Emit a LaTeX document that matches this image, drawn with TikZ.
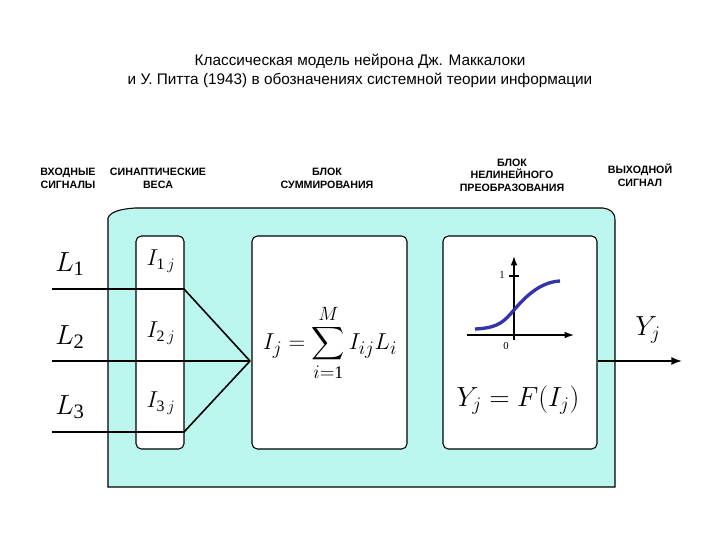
\documentclass[tikz,border=0pt]{standalone}
\usepackage{amsmath}
\usepackage{exscale}
\usepackage{fontspec}
\setmainfont{Liberation Serif}
\newfontfamily\hdr{Liberation Sans}
\usetikzlibrary{arrows.meta}
\definecolor{cyanbg}{HTML}{BBF7EE}
\definecolor{curveblue}{HTML}{3333AA}
\begin{document}
\begin{tikzpicture}[x=0.75pt,y=-0.75pt,
  head/.style={font=\hdr\bfseries\fontsize{8}{9.5}\selectfont, align=center},
  wbox/.style={draw=black, fill=white, line width=0.8pt, rounded corners=4pt},
  sig/.style={line width=1.2pt},
  mth/.style={font=\fontsize{22}{24}\selectfont},
  sm/.style={font=\fontsize{17}{20}\selectfont}]
\useasboundingbox (0,0) rectangle (720,540);
\node[font=\hdr\fontsize{11.5}{14.5}\selectfont, align=center] (title) at (360,71)
  {Классическая модель нейрона Дж. Маккалоки\\и У. Питта (1943) в обозначениях системной теории информации};
\node[head] (h1) at (68,178) {ВХОДНЫЕ\\СИГНАЛЫ};
\node[head] (h2) at (158,178) {СИНАПТИЧЕСКИЕ\\ВЕСА};
\node[head] (h3) at (327,178) {БЛОК\\СУММИРОВАНИЯ};
\node[head] (h4) at (512,175) {БЛОК\\НЕЛИНЕЙНОГО\\ПРЕОБРАЗОВАНИЯ};
\node[head] (h5) at (640,175) {ВЫХОДНОЙ\\СИГНАЛ};
\draw[fill=cyanbg, line width=0.8pt] (108,225) -- (108,218) .. controls (110,212) and (120,209) .. (135,208) -- (603,208) .. controls (610,209) and (615,212) .. (615,220) -- (615,487) -- (108,487) -- cycle;
\node[wbox, minimum width=48*0.75pt, minimum height=213*0.75pt, inner sep=0pt] (syn) at (160,342.5) {};
\node[wbox, minimum width=155*0.75pt, minimum height=213*0.75pt, inner sep=0pt] (sum) at (329.5,342.5) {};
\node[wbox, minimum width=154*0.75pt, minimum height=213*0.75pt, inner sep=0pt] (nl) at (520,342.5) {};
\coordinate (s1) at (52,289); \coordinate (e1) at (184,289);
\coordinate (s2) at (52,361);
\coordinate (s3) at (52,432); \coordinate (e3) at (184,432);
\coordinate (jn) at (250,361);
\draw[sig] (s1) -- (e1) -- (jn);
\draw[sig] (s3) -- (e3) -- (jn);
\draw[sig] (s2) -- (jn);
\draw[sig, -{Latex[length=8pt,width=6pt]}] (nl.east |- jn) -- (682,361) coordinate (out);
\node[mth] (L1) at (70,264) {$L_{\mathrm{1}}$};
\node[mth] (L2) at (70,337) {$L_{\mathrm{2}}$};
\node[mth] (L3) at (70,407) {$L_{\mathrm{3}}$};
\node[sm] (I1) at (161,261) {$I_{\mathrm{1}\,j}$};
\node[sm] (I2) at (161,333) {$I_{\mathrm{2}\,j}$};
\node[sm] (I3) at (161,403) {$I_{\mathrm{3}\,j}$};
\node[font=\fontsize{19}{22}\selectfont] (sumf) at (330,343) {$\displaystyle I_j=\sum_{i=\mathrm{1}}^{M} I_{ij}L_i$};
\node[mth] (Yj) at (648,330) {$Y_j$};
\node[font=\fontsize{21}{24}\selectfont] (Ff) at (518,400) {$Y_j=F(I_j)$};
\coordinate (yb) at (514,340); \coordinate (yt) at (514,256);
\coordinate (xl) at (467,335); \coordinate (xr) at (574,335);
\draw[line width=1pt, -{Latex[length=7pt,width=5pt]}] (yb) -- (yt);
\draw[line width=1pt, -{Latex[length=7pt,width=5pt]}] (xl) -- (xr);
\draw[line width=0.8pt] (509,276) -- (519,276);
\node[font=\fontsize{8}{9}\selectfont] (one) at (502,275) {1};
\node[font=\fontsize{8}{9}\selectfont] (zero) at (506,346) {0};
\draw[curveblue, line width=2.5pt] (475,329) .. controls (500,328) and (505,320) .. (514,310) .. controls (525,297) and (540,282) .. (560,281);
\end{tikzpicture}
\end{document}
